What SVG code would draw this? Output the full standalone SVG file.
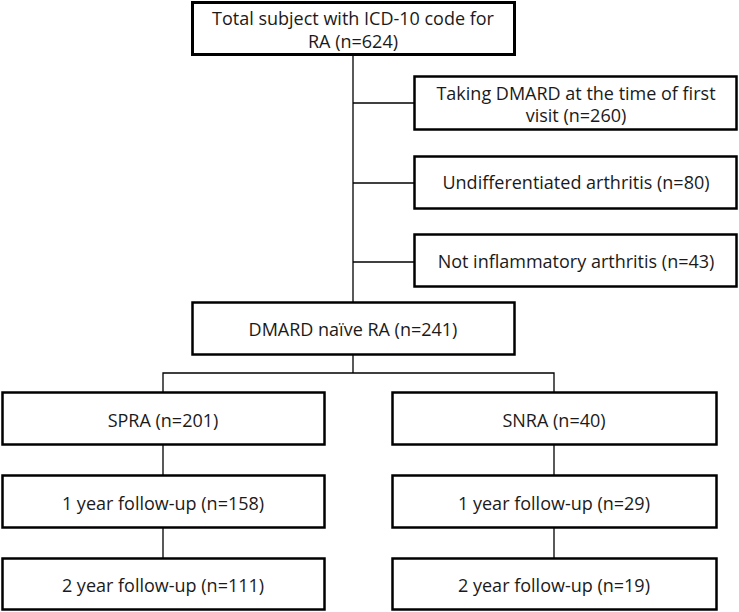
<svg xmlns="http://www.w3.org/2000/svg" width="739" height="612" viewBox="0 0 739 612">
<style>
.box{fill:#fff;stroke:#000;stroke-width:2.5}
.thick{stroke-width:3}
.con{stroke:#000;stroke-width:1.3;fill:none}
text{font-family:"Open Sans","Liberation Sans",Arial,sans-serif;font-size:18px;fill:#1a1a1a;text-anchor:middle}
</style>
<rect width="739" height="612" fill="#fff"/>
<g id="connectors">
<line class="con" x1="353" y1="55" x2="353" y2="302"/>
<line class="con" x1="353" y1="103" x2="414" y2="103"/>
<line class="con" x1="353" y1="183" x2="414" y2="183"/>
<line class="con" x1="353" y1="262" x2="414" y2="262"/>
<polyline class="con" points="353,354 353,373"/>
<polyline class="con" points="163,392 163,373 554,373 554,392"/>
<line class="con" x1="163" y1="445" x2="163" y2="475"/>
<line class="con" x1="163" y1="528" x2="163" y2="558"/>
<line class="con" x1="554" y1="445" x2="554" y2="475"/>
<line class="con" x1="554" y1="528" x2="554" y2="558"/>
</g>
<g id="total">
<rect class="box thick" x="192.5" y="2.5" width="322" height="52"/>
<text x="353" y="25">Total subject with ICD-10 code for</text>
<text x="353" y="48">RA (n=624)</text>
</g>
<g id="taking">
<rect class="box" x="414.5" y="76.5" width="322" height="53"/>
<text x="576" y="100">Taking DMARD at the time of first</text>
<text x="576" y="122">visit (n=260)</text>
</g>
<g id="undiff">
<rect class="box" x="414.5" y="156.5" width="322" height="52"/>
<text x="576" y="189">Undifferentiated arthritis (n=80)</text>
</g>
<g id="notinfl">
<rect class="box" x="414.5" y="234.5" width="322" height="52"/>
<text x="576" y="268">Not inflammatory arthritis (n=43)</text>
</g>
<g id="naive">
<rect class="box" x="192.5" y="302.5" width="322" height="52"/>
<text x="353" y="336">DMARD naïve RA (n=241)</text>
</g>
<g id="spra">
<rect class="box" x="2.5" y="392.5" width="322" height="52"/>
<text x="163" y="427">SPRA (n=201)</text>
</g>
<g id="snra">
<rect class="box" x="392.5" y="392.5" width="324" height="52"/>
<text x="554" y="427">SNRA (n=40)</text>
</g>
<g id="spra1">
<rect class="box" x="2.5" y="475.5" width="322" height="52"/>
<text x="163" y="510">1 year follow-up (n=158)</text>
</g>
<g id="snra1">
<rect class="box" x="392.5" y="475.5" width="324" height="52"/>
<text x="554" y="510">1 year follow-up (n=29)</text>
</g>
<g id="spra2">
<rect class="box" x="2.5" y="558.5" width="322" height="51"/>
<text x="163" y="592">2 year follow-up (n=111)</text>
</g>
<g id="snra2">
<rect class="box" x="392.5" y="558.5" width="324" height="51"/>
<text x="554" y="592">2 year follow-up (n=19)</text>
</g>
</svg>
